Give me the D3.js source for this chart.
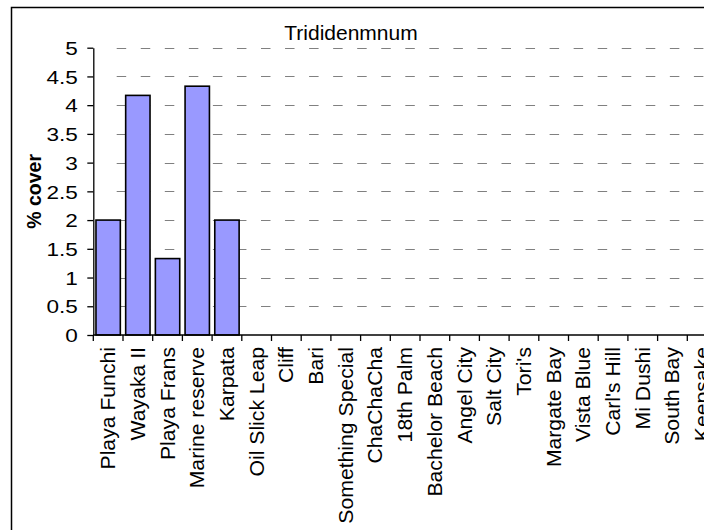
<!DOCTYPE html>
<html>
<head>
<meta charset="utf-8">
<script src="https://cdn.jsdelivr.net/npm/d3@7"></script>
<style>
  html, body { margin: 0; padding: 0; background: #fff; overflow: hidden; }
  svg { display: block; font-family: Arial, "Liberation Sans", sans-serif; }
</style>
</head>
<body>
<svg id="chart" width="704" height="530"></svg>
<script>
const title = "Trididenmnum";
const yLabel = "% cover";
const categories = ["Playa Funchi", "Wayaka II", "Playa Frans", "Marine reserve", "Karpata",
  "Oil Slick Leap", "Cliff", "Bari", "Something Special", "ChaChaCha", "18th Palm",
  "Bachelor Beach", "Angel City", "Salt City", "Tori's", "Margate Bay", "Vista Blue",
  "Carl's Hill", "Mi Dushi", "South Bay", "Keepsake"];
const values = [2, 4.17, 1.33, 4.33, 2, 0, 0, 0, 0, 0, 0, 0, 0, 0, 0, 0, 0, 0, 0, 0, 0];
const yTicks = [0, 0.5, 1, 1.5, 2, 2.5, 3, 3.5, 4, 4.5, 5];
const yTickLabels = ["0", "0.5", "1", "1.5", "2", "2.5", "3", "3.5", "4", "4.5", "5"];

const svg = d3.select("#chart");
const plotLeft = 93.3, bandStep = 29.7, plotTop = 47.7, plotBottom = 335;

const x = d3.scaleBand()
  .domain(categories)
  .range([plotLeft, plotLeft + bandStep * categories.length])
  .paddingInner(0.18)
  .paddingOuter(0.09);
const y = d3.scaleLinear().domain([0, 5]).range([plotBottom, plotTop]);

// outer chart border (clipped by window)
svg.append("rect")
  .attr("x", 11.5).attr("y", 7.5)
  .attr("width", 900).attr("height", 700)
  .attr("fill", "#fff").attr("stroke", "#000").attr("stroke-width", 1.5);

// title
svg.append("text")
  .attr("x", 351).attr("y", 40)
  .attr("text-anchor", "middle")
  .attr("font-size", "21px")
  .text(title);

// gridlines
svg.append("g").selectAll("line")
  .data(yTicks.filter(d => d > 0))
  .join("line")
  .attr("x1", plotLeft + 23.4).attr("x2", 720)
  .attr("y1", d => Math.round(y(d)) + 0.5).attr("y2", d => Math.round(y(d)) + 0.5)
  .attr("stroke", "#808080").attr("stroke-width", 1)
  .attr("stroke-dasharray", "9.5 14.55");

// bars
svg.append("g").selectAll("rect")
  .data(categories.map((c, i) => ({c, v: values[i]})).filter(d => d.v > 0))
  .join("rect")
  .attr("x", d => x(d.c))
  .attr("y", d => y(d.v))
  .attr("width", x.bandwidth())
  .attr("height", d => y(0) - y(d.v))
  .attr("fill", "#9999FF")
  .attr("stroke", "#000").attr("stroke-width", 1.6);

// y axis
const yAxis = svg.append("g")
  .attr("transform", `translate(${plotLeft},0)`)
  .call(d3.axisLeft(y).tickValues(yTicks).tickSize(6).tickSizeOuter(0)
    .tickFormat((d, i) => yTickLabels[i]));
yAxis.select(".domain").attr("stroke", "#000").attr("stroke-width", 1.3);
yAxis.selectAll(".tick line").attr("stroke", "#000").attr("stroke-width", 1.3);
yAxis.selectAll(".tick text")
  .attr("x", null)
  .attr("dy", "0.36em")
  .attr("transform", "translate(-15.5,0) scale(1.22,1)")
  .attr("font-size", "18.5px")
  .attr("fill", "#000")
  .attr("font-family", "Arial, 'Liberation Sans', sans-serif");

// x axis line and boundary ticks
const xg = svg.append("g");
xg.append("line")
  .attr("x1", plotLeft).attr("x2", 720)
  .attr("y1", plotBottom).attr("y2", plotBottom)
  .attr("stroke", "#000").attr("stroke-width", 1.3);
xg.selectAll("line.tk")
  .data(d3.range(categories.length + 1))
  .join("line").attr("class", "tk")
  .attr("x1", i => x.range()[0] + i * x.step())
  .attr("x2", i => x.range()[0] + i * x.step())
  .attr("y1", plotBottom).attr("y2", plotBottom + 6)
  .attr("stroke", "#000").attr("stroke-width", 1.3);

// category labels
xg.selectAll("text")
  .data(categories)
  .join("text")
  .attr("transform", d => `translate(${x(d) + x.bandwidth() / 2},${plotBottom + 12}) rotate(-90) scale(1.06,1)`)
  .attr("text-anchor", "end")
  .attr("dy", "0.35em")
  .attr("font-size", "20px")
  .text(d => d);

// y label
svg.append("text")
  .attr("transform", `translate(41,${(plotTop + plotBottom) / 2}) rotate(-90)`)
  .attr("text-anchor", "middle")
  .attr("font-size", "19.5px")
  .attr("font-weight", "bold")
  .text(yLabel);
</script>
</body>
</html>
